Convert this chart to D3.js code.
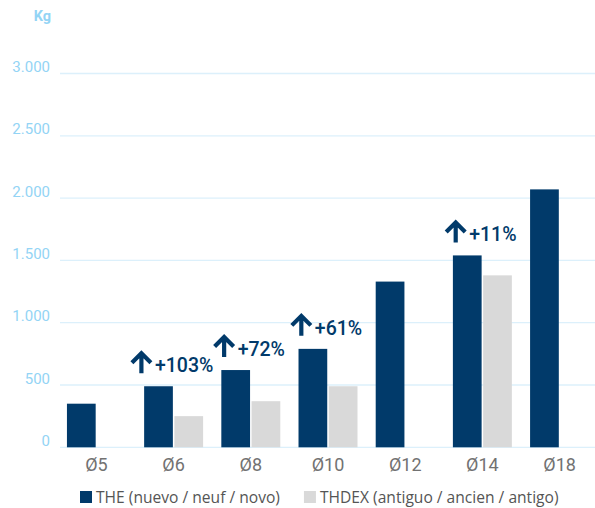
<!DOCTYPE html>
<html>
<head>
<meta charset="utf-8">
<script src="https://cdn.jsdelivr.net/npm/d3@7"></script>
<style>
  body { margin: 0; background: #fff; }
  svg { display: block; font-family: Roboto, "Open Sans", sans-serif; }
</style>
</head>
<body>
<svg id="chart" width="595" height="508"></svg>
<script>
// data
const categories = ['Ø5', 'Ø6', 'Ø8', 'Ø10', 'Ø12', 'Ø14', 'Ø18'];
const theValues = [350, 490, 620, 790, 1330, 1540, 2070];
const thdexValues = [null, 250, 370, 490, null, 1380, null];
const increases = [null, '+103%', '+72%', '+61%', null, '+11%', null];
const yTicks = [0, 500, 1000, 1500, 2000, 2500, 3000];
const seriesNames = ['THE (nuevo / neuf / novo)', 'THDEX (antiguo / ancien / antigo)'];

const colors = ['#013a6a', '#d9d9d9'];

const svg = d3.select('#chart');

// scales
const x = d3.scaleBand()
    .domain(categories)
    .range([60, 596])
    .paddingInner(0.236)
    .paddingOuter(0.09);

const xSub = d3.scaleBand()
    .domain([0, 1])
    .range([0, x.bandwidth()])
    .paddingInner(0.05);

const y = d3.scaleLinear()
    .domain([0, 3000])
    .range([447.3, 73.5]);

const fmt = v => v === 0 ? '0' : d3.format(',')(v).replace(/,/g, '.');

// grid + y labels
const grid = svg.append('g');
grid.selectAll('line')
    .data(yTicks)
    .enter().append('line')
    .attr('x1', 60)
    .attr('x2', 595)
    .attr('y1', d => y(d))
    .attr('y2', d => y(d))
    .attr('stroke', '#dcf0fb')
    .attr('stroke-width', 1.3);

grid.selectAll('text')
    .data(yTicks)
    .enter().append('text')
    .attr('x', 50)
    .attr('y', d => y(d) - 1.5)
    .attr('text-anchor', 'end')
    .attr('fill', '#93d4f5')
    .attr('font-size', 15)
    .text(fmt);

svg.append('text')
    .attr('x', 51)
    .attr('y', 21)
    .attr('text-anchor', 'end')
    .attr('fill', '#93d4f5')
    .attr('font-size', 14.5)
    .attr('font-weight', 'bold')
    .text('Kg');

// bars
const rows = categories.map((c, i) => ({ cat: c, vals: [theValues[i], thdexValues[i]] }));

const groups = svg.append('g').selectAll('g')
    .data(rows)
    .enter().append('g')
    .attr('transform', d => `translate(${x(d.cat)},0)`);

groups.selectAll('rect')
    .data(d => d.vals.map((v, k) => ({ v, k })).filter(e => e.v != null))
    .enter().append('rect')
    .attr('x', d => xSub(d.k))
    .attr('width', xSub.bandwidth())
    .attr('y', d => y(d.v))
    .attr('height', d => y(0) - y(d.v))
    .attr('fill', d => colors[d.k]);

// x labels
svg.append('g').selectAll('text')
    .data(categories)
    .enter().append('text')
    .attr('x', d => x(d) + x.bandwidth() / 2)
    .attr('y', 470.5)
    .attr('text-anchor', 'middle')
    .attr('fill', '#727272')
    .attr('font-size', 18)
    .text(d => d);

// increase annotations
const notes = categories
    .map((c, i) => ({ cat: c, label: increases[i], v: theValues[i] }))
    .filter(d => d.label);

notes.forEach(d => {
    const g = svg.append('g');
    const t = g.append('text')
        .attr('x', 25)
        .attr('y', 0)
        .attr('fill', '#013a6a')
        .attr('font-size', 19.5)
        .attr('font-weight', 500)
        .text(d.label);
    const w = 25 + t.node().getComputedTextLength();
    // arrow
    g.append('path')
        .attr('d', 'M11.5,1 V-19 M2,-9.5 L11.5,-19 L21,-9.5')
        .attr('fill', 'none')
        .attr('stroke', '#013a6a')
        .attr('stroke-width', 4.2)
        .attr('stroke-linejoin', 'miter')
        .attr('stroke-linecap', 'butt');
    const cx = x(d.cat) + x.bandwidth() / 2 - 2;
    g.attr('transform', `translate(${cx - w / 2},${y(d.v) - 14})`);
});

// legend
const legend = svg.append('g');
let lx = 80;
seriesNames.forEach((name, k) => {
    legend.append('rect')
        .attr('x', lx)
        .attr('y', 491)
        .attr('width', 12)
        .attr('height', 12)
        .attr('fill', colors[k]);
    const t = legend.append('text')
        .attr('x', lx + 16)
        .attr('y', 503)
        .attr('fill', '#555')
        .attr('font-family', '"Open Sans", sans-serif')
        .attr('font-size', 15.6)
        .text(name);
    lx += 16 + t.node().getComputedTextLength() + 24;
});
</script>
</body>
</html>
